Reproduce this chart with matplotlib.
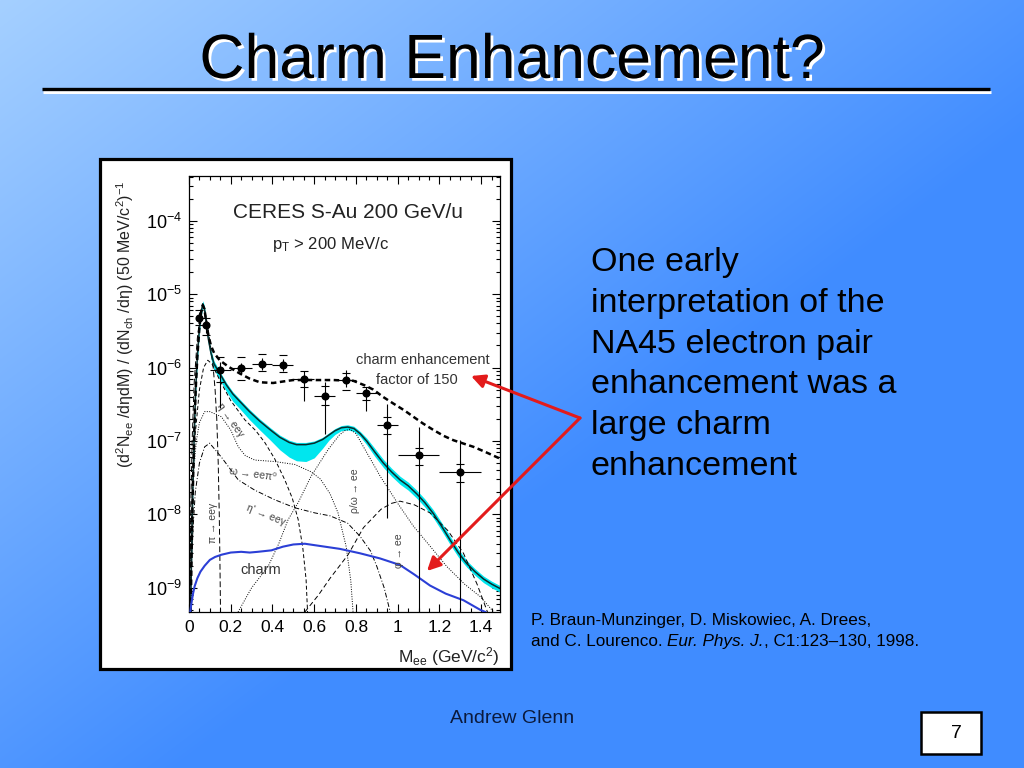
import numpy as np
import matplotlib
matplotlib.use("Agg")
import matplotlib.pyplot as plt
import matplotlib.patheffects as pe
from matplotlib.patches import Rectangle
from matplotlib.ticker import MultipleLocator, LogLocator, NullFormatter, FuncFormatter

plt.rcParams['font.family'] = ['Liberation Sans', 'DejaVu Sans']
plt.rcParams['mathtext.fontset'] = 'custom'
plt.rcParams['mathtext.rm'] = 'Liberation Sans'
plt.rcParams['mathtext.it'] = 'Liberation Sans:italic'
plt.rcParams['mathtext.bf'] = 'Liberation Sans:bold'
plt.rcParams['mathtext.default'] = 'regular'

# ---- CERES data points (mass, yield), stat and syst ranges ----
m_pts = [0.046, 0.083, 0.15, 0.25, 0.35, 0.45, 0.55, 0.65, 0.75, 0.85, 0.95, 1.10, 1.30]
m_err = [0.012, 0.012, 0.05, 0.05, 0.05, 0.05, 0.05, 0.05, 0.05, 0.05, 0.05, 0.10, 0.10]
y_pts = [4.8e-6, 3.8e-6, 9.3e-7, 9.8e-7, 1.12e-6, 1.10e-6, 6.9e-7, 4.1e-7, 6.8e-7, 4.5e-7, 1.66e-7, 6.5e-8, 3.8e-8]
stat_top = [5.75e-6, 4.6e-6, 1.2e-6, 1.17e-6, 1.35e-6, 1.32e-6, 8.9e-7, 6.3e-7, 9.3e-7, 5.5e-7, 3.2e-7, 1.55e-7, 1.02e-7]
stat_bot = [4.0e-6, 3.0e-6, 2.8e-7, 8.1e-7, 9.3e-7, 9.1e-7, 3.5e-7, 1.26e-7, 5.4e-7, 2.6e-7, 8.9e-9, 1e-10, 1e-10]
sys_top = [6.0e-6, 4.8e-6, 1.38e-6, 1.38e-6, 1.51e-6, 1.48e-6, 8.9e-7, 5.6e-7, 8.5e-7, 5.5e-7, 2.1e-7, 8.1e-8, 4.8e-8]
sys_bot = [3.8e-6, 2.8e-6, 6.3e-7, 6.8e-7, 8.9e-7, 8.7e-7, 5.5e-7, 3.1e-7, 5.0e-7, 3.6e-7, 1.23e-7, 4.7e-8, 2.75e-8]

# ---- curves: mass and log10(yield) ----
total_m = [0.008, 0.012, 0.018, 0.025, 0.032, 0.04, 0.05, 0.058, 0.066, 0.074,
           0.082, 0.092, 0.105, 0.12, 0.147, 0.18, 0.21, 0.243, 0.29, 0.339,
           0.39, 0.435, 0.48, 0.515, 0.56, 0.6, 0.64, 0.67, 0.7, 0.73,
           0.76, 0.79, 0.82, 0.851, 0.89, 0.931, 0.97, 1.011, 1.05, 1.091,
           1.13, 1.171, 1.21, 1.251, 1.29, 1.331, 1.37, 1.411, 1.45, 1.49]
total_log = [-9.33, -8.6, -7.7, -6.9, -6.3, -5.85, -5.45, -5.25, -5.13, -5.2,
             -5.38, -5.6, -5.8, -5.95, -6.08, -6.24, -6.36, -6.46, -6.6, -6.73,
             -6.85, -6.95, -7.02, -7.05, -7.05, -7.03, -6.98, -6.92, -6.86, -6.82,
             -6.81, -6.83, -6.9, -7.0, -7.15, -7.3, -7.42, -7.53, -7.61, -7.72,
             -7.84, -7.99, -8.16, -8.35, -8.52, -8.67, -8.78, -8.88, -8.95, -9.01]
band_dn = [0.08, 0.08, 0.08, 0.08, 0.08, 0.08, 0.07, 0.06, 0.05, 0.05,
           0.06, 0.07, 0.08, 0.08, 0.08, 0.09, 0.1, 0.1, 0.11, 0.12,
           0.14, 0.17, 0.2, 0.22, 0.23, 0.2, 0.12, 0.07, 0.05, 0.04,
           0.04, 0.04, 0.04, 0.05, 0.06, 0.06, 0.06, 0.06, 0.06, 0.06,
           0.06, 0.06, 0.06, 0.06, 0.06, 0.05, 0.05, 0.05, 0.05, 0.05]
band_up = [0.06, 0.06, 0.06, 0.06, 0.06, 0.06, 0.05, 0.04, 0.04, 0.04,
           0.04, 0.04, 0.04, 0.04, 0.03, 0.03, 0.03, 0.03, 0.03, 0.03,
           0.03, 0.03, 0.03, 0.03, 0.03, 0.03, 0.03, 0.03, 0.03, 0.03,
           0.03, 0.03, 0.03, 0.04, 0.05, 0.05, 0.05, 0.05, 0.05, 0.05,
           0.05, 0.05, 0.05, 0.05, 0.05, 0.04, 0.04, 0.04, 0.04, 0.04]

enh_m = [0.008, 0.012, 0.018, 0.025, 0.032, 0.04, 0.05, 0.058, 0.066, 0.074,
         0.082, 0.092, 0.105, 0.12, 0.147, 0.19, 0.243, 0.29, 0.339, 0.403,
         0.45, 0.499, 0.595, 0.691, 0.787, 0.84, 0.883, 0.93, 0.979, 1.03,
         1.075, 1.12, 1.171, 1.22, 1.267, 1.32, 1.363, 1.42, 1.49]
enh_log = [-9.33, -8.6, -7.7, -6.9, -6.3, -5.85, -5.45, -5.25, -5.15, -5.2,
           -5.37, -5.55, -5.7, -5.8, -5.9, -5.99, -6.08, -6.15, -6.2, -6.21,
           -6.19, -6.17, -6.17, -6.17, -6.18, -6.24, -6.3, -6.4, -6.49, -6.58,
           -6.67, -6.76, -6.85, -6.93, -6.99, -7.04, -7.08, -7.15, -7.24]

charm_m = [0.006, 0.012, 0.02, 0.027, 0.04, 0.055, 0.075, 0.1, 0.125, 0.155,
           0.2, 0.25, 0.291, 0.33, 0.395, 0.45, 0.5, 0.555, 0.627, 0.723,
           0.819, 0.915, 1.011, 1.08, 1.155, 1.23, 1.315, 1.395, 1.42]
charm_log = [-9.33, -9.2, -9.07, -8.98, -8.87, -8.78, -8.7, -8.62, -8.58, -8.55,
             -8.52, -8.51, -8.52, -8.51, -8.49, -8.44, -8.41, -8.40, -8.43, -8.47,
             -8.53, -8.6, -8.69, -8.82, -8.97, -9.08, -9.17, -9.3, -9.33]

pi_m = [0.004, 0.008, 0.015, 0.025, 0.04, 0.055, 0.066, 0.078, 0.09, 0.105,
        0.115, 0.125, 0.133, 0.14, 0.145, 0.148, 0.151]
pi_log = [-9.33, -8.0, -7.0, -6.2, -5.6, -5.25, -5.14, -5.25, -5.45, -5.75,
          -5.97, -6.3, -6.7, -7.3, -8.0, -8.6, -9.33]

eta_m = [0.005, 0.015, 0.03, 0.05, 0.07, 0.09, 0.11, 0.147, 0.2, 0.267,
         0.32, 0.363, 0.41, 0.459, 0.495, 0.523, 0.545, 0.561, 0.568]
eta_log = [-9.33, -7.8, -6.9, -6.3, -6.0, -5.9, -5.95, -6.17, -6.45, -6.71,
           -6.86, -7.02, -7.24, -7.53, -7.78, -8.07, -8.45, -8.89, -9.33]

omd_m = [0.005, 0.01, 0.02, 0.035, 0.05, 0.075, 0.1, 0.155, 0.2, 0.236,
         0.27, 0.315, 0.41, 0.507, 0.585, 0.63, 0.676, 0.714, 0.753, 0.775, 0.786]
omd_log = [-9.33, -8.3, -7.5, -7.0, -6.75, -6.6, -6.6, -6.67, -6.85, -7.08,
           -7.2, -7.26, -7.28, -7.32, -7.42, -7.52, -7.72, -7.98, -8.44, -8.9, -9.33]

etap_m = [0.006, 0.015, 0.03, 0.05, 0.075, 0.099, 0.155, 0.236, 0.315, 0.41,
          0.507, 0.603, 0.676, 0.76, 0.82, 0.87, 0.9, 0.935, 0.964]
etap_log = [-9.33, -8.4, -7.7, -7.3, -7.08, -7.03, -7.22, -7.53, -7.67, -7.80,
            -7.91, -7.98, -8.02, -8.12, -8.3, -8.5, -8.71, -9.0, -9.33]

rho_m = [0.235, 0.3, 0.379, 0.43, 0.475, 0.523, 0.585, 0.666, 0.72, 0.746,
         0.772, 0.8, 0.85, 0.916, 1.0, 1.075, 1.16, 1.235, 1.32, 1.395, 1.46]
rho_log = [-9.33, -9.0, -8.71, -8.4, -8.07, -7.84, -7.48, -7.12, -6.92, -6.86,
           -6.84, -6.9, -7.15, -7.48, -7.85, -8.16, -8.45, -8.71, -8.95, -9.12, -9.33]

phi_m = [0.555, 0.62, 0.676, 0.762, 0.836, 0.92, 0.97, 1.011, 1.08, 1.155,
         1.24, 1.315, 1.38, 1.43]
phi_log = [-9.33, -9.1, -8.87, -8.55, -8.18, -7.93, -7.85, -7.82, -7.87, -7.98,
           -8.22, -8.53, -8.95, -9.33]

text_lines = ["One early", "interpretation of the", "NA45 electron pair",
              "enhancement was a", "large charm", "enhancement"]
ref_line1 = "P. Braun-Munzinger, D. Miskowiec, A. Drees,"
ref_parts = [("and C. Lourenco.", 'normal'), ("Eur. Phys. J.", 'italic'), (", C1:123–130, 1998.", 'normal')]

W, H = 1024, 768
fig = plt.figure(figsize=(W / 100, H / 100), dpi=100)

# background gradient
bg = fig.add_axes([0, 0, 1, 1], zorder=0)
bg.set_xlim(0, W)
bg.set_ylim(H, 0)
bg.axis('off')
yy, xx = np.mgrid[0:H, 0:W]
t = np.clip(0.85 * xx / W + 0.85 * yy / H, 0, 1)
light = np.array([165, 208, 255]) / 255
dark = np.array([64, 140, 255]) / 255
img = light + (dark - light) * t[..., None]
bg.imshow(img, extent=[0, W, H, 0], aspect='auto')
bg.add_patch(Rectangle((100, 159), 411, 510, facecolor='white', edgecolor='black', lw=2.3))

# ---- the physics plot ----
ax = fig.add_axes([189 / W, (H - 612) / H, 311 / W, 436 / H], zorder=1)
ax.set_yscale('log')

tl = np.array(total_log)
ax.fill_between(total_m, 10 ** (tl - np.array(band_dn)), 10 ** (tl + np.array(band_up)),
                color='#00e6ee', lw=0, zorder=2)
ax.plot(total_m, 10 ** tl, color='#0a2a2a', lw=1.1, zorder=3)
ax.plot(enh_m, 10 ** np.array(enh_log), color='black', lw=1.8, ls=(0, (2.2, 1.4)), zorder=3)
ax.plot(charm_m, 10 ** np.array(charm_log), color='#2b3fd6', lw=1.5, zorder=3)

thin = dict(color='black', lw=0.7, zorder=2)
ax.plot(pi_m, 10 ** np.array(pi_log), ls=(0, (6, 3)), **thin)
ax.plot(eta_m, 10 ** np.array(eta_log), ls=(0, (4, 2.5)), **thin)
ax.plot(omd_m, 10 ** np.array(omd_log), ls=(0, (1, 1.5)), **thin)
ax.plot(etap_m, 10 ** np.array(etap_log), ls=(0, (5, 2, 1, 2)), **thin)
ax.plot(rho_m, 10 ** np.array(rho_log), ls=(0, (1, 1.5)), **thin)
ax.plot(phi_m, 10 ** np.array(phi_log), ls=(0, (5, 3)), **thin)

yp = np.array(y_pts)
ax.errorbar(m_pts, yp, xerr=m_err, yerr=[yp - np.array(stat_bot), np.array(stat_top) - yp],
            fmt='o', color='black', ms=4.8, elinewidth=0.8, capsize=0, zorder=5)
ax.errorbar(m_pts, yp, yerr=[yp - np.array(sys_bot), np.array(sys_top) - yp],
            fmt='none', ecolor='black', elinewidth=0, capsize=3.2, capthick=0.8, zorder=5)

ax.set_xlim(0, 1.49)
ax.set_ylim(10 ** -9.33, 10 ** -3.39)
ax.xaxis.set_major_locator(MultipleLocator(0.2))
ax.xaxis.set_minor_locator(MultipleLocator(0.05))
ax.xaxis.set_major_formatter(FuncFormatter(lambda v, p: f"{v:g}"))
ax.yaxis.set_major_locator(LogLocator(base=10, numticks=20))
ax.yaxis.set_minor_locator(LogLocator(base=10, subs=np.arange(2, 10), numticks=20))
ax.yaxis.set_minor_formatter(NullFormatter())
ax.tick_params(which='both', direction='in', top=True, right=True, width=0.8, colors='black')
ax.tick_params(which='major', length=6)
ax.tick_params(which='minor', length=3)
ax.tick_params(axis='x', labelsize=12.5, pad=6)
ax.tick_params(axis='y', labelsize=13, pad=5)
for s in ax.spines.values():
    s.set_linewidth(0.9)

ax.set_ylabel(r"(d$^{2}$N$_{ee}$ /d$\eta$dM) / (dN$_{ch}$ /d$\eta$) (50 MeV/c$^{2}$)$^{-1}$",
              fontsize=11.5, color='#222222')
ax.yaxis.set_label_coords(-0.17, 0.66)
ax.set_xlabel(r"M$_{ee}$ (GeV/c$^{2}$)", fontsize=12.5, loc='right', color='#222222')
ax.xaxis.set_label_coords(1.0, -0.075)

ax.text(0.762, 10 ** -3.89, "CERES S-Au 200 GeV/u", fontsize=15, ha='center', va='center', color='#222222')
ax.text(0.68, 10 ** -4.33, r"p$_{T}$ > 200 MeV/c", fontsize=12, ha='center', va='center', color='#222222')
ax.text(1.12, 10 ** -5.9, "charm enhancement", fontsize=10.5, ha='center', va='center', color='#333333')
ax.text(1.09, 10 ** -6.17, "factor of 150", fontsize=10.5, ha='center', va='center', color='#333333')
ax.text(0.345, 10 ** -8.76, "charm", fontsize=10.5, ha='center', va='center', color='#333333')
small = dict(fontsize=7.5, ha='center', va='center', color='#444444')
ax.text(0.115, 10 ** -8.11, "π → eeγ", rotation=90, **small)
ax.text(0.199, 10 ** -6.71, "η → eeγ", rotation=-55, **small)
ax.text(0.307, 10 ** -7.45, "ω → eeπ⁰", rotation=-8, **small)
ax.text(0.367, 10 ** -8.01, "η' → eeγ", rotation=-22, **small)
ax.text(0.796, 10 ** -7.68, "ρ/ω → ee", rotation=90, **small)
ax.text(1.007, 10 ** -8.5, "φ → ee", rotation=90, **small)

# ---- slide overlay ----
ov = fig.add_axes([0, 0, 1, 1], zorder=2)
ov.set_xlim(0, W)
ov.set_ylim(H, 0)
ov.axis('off')
ov.patch.set_alpha(0)

ov.text(512, 78, "Charm Enhancement?", fontsize=45, ha='center', va='baseline', color='black',
        path_effects=[pe.withSimplePatchShadow(offset=(2, -2), shadow_rgbFace='white', alpha=1.0)])
ov.plot([43, 991], [91.5, 91.5], color='white', lw=2.2, solid_capstyle='butt')
ov.plot([42, 990], [88.5, 88.5], color='black', lw=2.4, solid_capstyle='butt')

for i, line in enumerate(text_lines):
    ov.text(591, 271 + 40.8 * i, line, fontsize=24.5, ha='left', va='baseline', color='black')

ref_fs = 12.3
ov.text(531, 625, ref_line1, fontsize=ref_fs, va='baseline', color='black')
renderer = fig.canvas.get_renderer()
probe = ov.text(0, 0, "x x", fontsize=ref_fs)
w_xx = probe.get_window_extent(renderer).width
probe.set_text("xx")
space_w = w_xx - probe.get_window_extent(renderer).width
probe.remove()
x0 = 531
for txt, sty in ref_parts:
    if not txt.startswith(",") and x0 != 531:
        x0 += space_w
    tt = ov.text(x0, 646, txt, fontsize=ref_fs, style=sty, va='baseline', color='black')
    x0 += tt.get_window_extent(renderer).width

ov.text(512, 723, "Andrew Glenn", fontsize=14, ha='center', va='baseline', color='#0b1a3c')
ov.add_patch(Rectangle((921, 712), 60, 42, facecolor='white', edgecolor='black', lw=1.8))
ov.text(956, 734, "7", fontsize=14, ha='center', va='center', color='black')

red = '#e31b1b'
for tip in [(471, 376), (427, 571)]:
    ov.annotate("", xy=tip, xytext=(580, 418),
                arrowprops=dict(arrowstyle='-|>', color=red, lw=2.2, mutation_scale=20,
                                shrinkA=0, shrinkB=0))

fig.savefig("out.png", dpi=100)
